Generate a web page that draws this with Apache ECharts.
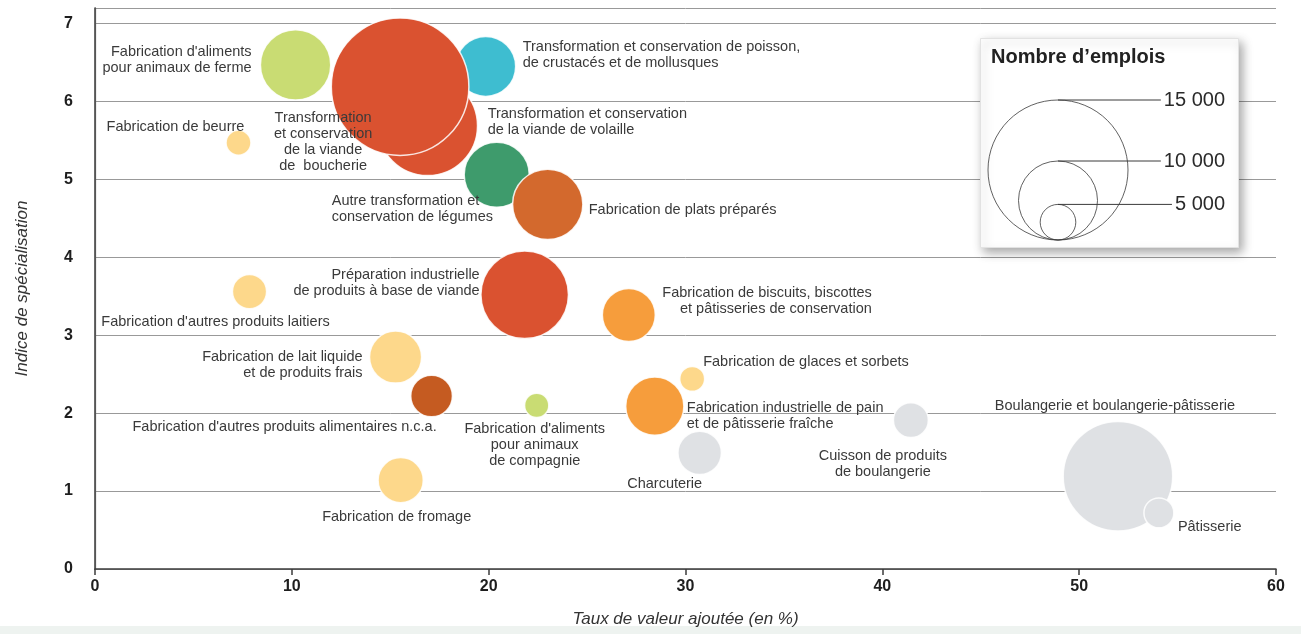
<!DOCTYPE html>
<html>
<head>
<meta charset="utf-8">
<script src="https://cdn.jsdelivr.net/npm/echarts@6/dist/echarts.min.js"></script>
<style>
html,body{margin:0;padding:0;background:#ffffff;}
#chart{width:1301px;height:634px;}
</style>
</head>
<body>
<div id="chart"></div>
<script>
// ---------------- DATA ----------------
const activites = [
  "Transformation et conservation\nde la viande de volaille",
  "Transformation et conservation de poisson,\nde crustacés et de mollusques",
  "Fabrication d'aliments\npour animaux de ferme",
  "Transformation\net conservation\nde la viande\nde  boucherie",
  "Autre transformation et\nconservation de légumes",
  "Fabrication de plats préparés",
  "Fabrication de beurre",
  "Préparation industrielle\nde produits à base de viande",
  "Fabrication d'autres produits laitiers",
  "Fabrication de biscuits, biscottes\net pâtisseries de conservation",
  "Fabrication de lait liquide\net de produits frais",
  "Fabrication d'autres produits alimentaires n.c.a.",
  "Fabrication d'aliments\npour animaux\nde compagnie",
  "Fabrication de glaces et sorbets",
  "Fabrication industrielle de pain\net de pâtisserie fraîche",
  "Charcuterie",
  "Cuisson de produits\nde boulangerie",
  "Boulangerie et boulangerie-pâtisserie",
  "Pâtisserie",
  "Fabrication de fromage"
];
const secteurs = [
  "viande","poisson","animaux","viande","legumes","autres","lait","viande","lait","boulPat",
  "lait","autres2","animaux","lait","boulPat","artisanat","artisanat","artisanat","artisanat","lait"
];
const tauxValeurAjoutee = [16.9, 19.85, 10.19, 15.5, 20.41, 23.0, 7.29, 21.83, 7.85, 27.12,
                           15.27, 17.1, 22.44, 30.34, 28.44, 30.72, 41.45, 51.97, 54.05, 15.53];
const indiceSpecialisation = [5.69, 6.45, 6.47, 6.19, 5.06, 4.68, 5.47, 3.52, 3.56, 3.26,
                              2.72, 2.22, 2.10, 2.44, 2.09, 1.49, 1.91, 1.19, 0.72, 1.14];
const nombreEmplois = [11700, 7800, 9000, 14800, 8400, 9000, 3500, 10700, 4800, 7000,
                       6900, 5700, 3400, 3500, 7600, 5900, 4900, 12500, 4200, 6100];
const legendeEmplois = [15000, 10000, 5000];
const legendeLabels = ["15 000", "10 000", "5 000"];
const xTicks = [0, 10, 20, 30, 40, 50, 60];
const yTicks = [0, 1, 2, 3, 4, 5, 6, 7];

// ---------------- STYLE ----------------
const couleurs = {
  viande: "#da5230", poisson: "#3ebdd0", animaux: "#c9dc73", legumes: "#3e9b6c",
  autres: "#d3692d", autres2: "#c55b21", lait: "#fdd88b", boulPat: "#f69d3c", artisanat: "#dfe1e4"
};
// label placement relative to bubble centre: [dx, dy, align]
const labelPlacement = [
  [60, -4, "left"], [37, -11, "left"], [-44, -5, "right"], [-77, 55, "center"], [-165, 34, "left"],
  [41, 6, "left"], [-63, -16, "center"], [-45, -12, "right"], [-34, 30, "center"], [243, -14, "right"],
  [-33, 8, "right"], [-147, 31, "center"], [-2, 40, "center"], [11, -17, "left"], [32, 10, "left"],
  [-35, 31, "center"], [-28, 44, "center"], [-3, -70, "center"], [19, 14, "left"], [-4, 37, "center"]
];
// radius scale (value -> px radius), from the picture's size key
const radiusStops = [[0, 0], [5000, 17.8], [10000, 39.5], [15000, 70]];
function rayon(v) {
  for (let i = 1; i < radiusStops.length; i++) {
    const a = radiusStops[i - 1], b = radiusStops[i];
    if (v <= b[0] || i === radiusStops.length - 1) {
      return a[1] + (v - a[0]) / (b[0] - a[0]) * (b[1] - a[1]);
    }
  }
}
const SANS = "'Liberation Sans',Arial,sans-serif";

const bubbleData = activites.map((n, i) => ({
  name: n,
  value: [tauxValeurAjoutee[i], indiceSpecialisation[i], nombreEmplois[i]],
  itemStyle: { color: couleurs[secteurs[i]] }
}));

const legendSeries = [];
legendeEmplois.forEach((v, i) => {
  const r = rayon(v);
  legendSeries.push({
    type: "scatter", xAxisIndex: 2, yAxisIndex: 2, z: 10, silent: true,
    data: [[0, r]], symbolSize: 2 * r,
    itemStyle: { color: "rgba(0,0,0,0)", borderColor: "#3a3a3a", borderWidth: 1 }
  });
  legendSeries.push({
    type: "line", xAxisIndex: 2, yAxisIndex: 2, z: 11, silent: true,
    symbol: "circle", symbolSize: 0, showSymbol: true,
    lineStyle: { color: "#3a3a3a", width: 1 },
    data: [[0, 2 * r], { value: [167, 2 * r], label: {
      show: true, position: "inside", align: "right", verticalAlign: "middle",
      formatter: legendeLabels[i], fontFamily: SANS, fontSize: 20, color: "#2a2a2a",
      backgroundColor: "#ffffff", padding: [0, 0, 0, 3]
    } }]
  });
});

const chart = echarts.init(document.getElementById("chart"), null, { renderer: "canvas" });
chart.setOption({
  animation: false,
  backgroundColor: "#ffffff",
  grid: [
    { left: 95, right: 25, top: 8, bottom: 65 },
    { left: 1058, top: 40, width: 200, height: 200 }
  ],
  xAxis: [
    {
      type: "value", gridIndex: 0, min: xTicks[0], max: xTicks[xTicks.length - 1], interval: 10,
      position: "bottom",
      axisLine: { show: true, lineStyle: { color: "#3d3d3d", width: 1.5 } },
      axisTick: { show: true, inside: false, length: 6, lineStyle: { color: "#3d3d3d", width: 1.5 } },
      axisLabel: { fontFamily: SANS, fontWeight: "bold", fontSize: 16, color: "#1e1e1e", margin: 10 },
      splitLine: { show: false },
      name: "Taux de valeur ajoutée (en %)", nameLocation: "middle", nameGap: 42,
      nameTextStyle: { fontFamily: SANS, fontStyle: "italic", fontSize: 17, color: "#333" }
    },
    {
      type: "value", gridIndex: 0, min: 0, max: 60, position: "top",
      axisLine: { show: true, lineStyle: { color: "#555", width: 1.2 } },
      axisTick: { show: false }, axisLabel: { show: false }, splitLine: { show: false }
    },
    { type: "value", gridIndex: 1, min: 0, max: 200, show: false }
  ],
  yAxis: [
    {
      type: "value", gridIndex: 0, min: yTicks[0], max: 7.2, interval: 1,
      axisLine: { show: true, lineStyle: { color: "#3d3d3d", width: 1.5 } },
      axisTick: { show: false },
      axisLabel: { fontFamily: SANS, fontWeight: "bold", fontSize: 16, color: "#1e1e1e", margin: 22,
                   showMaxLabel: false },
      splitLine: { show: true, lineStyle: { color: "#999999", width: 1 } },
      name: "Indice de spécialisation", nameLocation: "middle", nameGap: 64, nameRotate: 90,
      nameTextStyle: { fontFamily: SANS, fontStyle: "italic", fontSize: 17, color: "#333" }
    },
    {
      type: "value", gridIndex: 0, min: 0, max: 7.2, position: "right",
      axisLine: { show: true, lineStyle: { color: "#555", width: 1.2 } },
      axisTick: { show: false }, axisLabel: { show: false }, splitLine: { show: false }
    },
    { type: "value", gridIndex: 1, min: 0, max: 200, show: false }
  ],
  graphic: [
    { type: "rect", left: 0, top: 626, z: 0, shape: { width: 1301, height: 8 }, style: { fill: "#eef3f0" } },
    {
      type: "rect", left: 980, top: 38, z: 5, shape: { width: 258, height: 209 },
      style: { fill: "#ffffff", stroke: "#e2e2e2", lineWidth: 1,
               shadowBlur: 10, shadowOffsetX: 3, shadowOffsetY: 4, shadowColor: "rgba(0,0,0,0.35)" }
    },
    {
      type: "text", left: 991, top: 47, z: 12,
      style: { text: "Nombre d’emplois", font: "bold 20px " + SANS, fill: "#222" }
    }
  ],
  series: [
    {
      type: "scatter", xAxisIndex: 0, yAxisIndex: 0, z: 2,
      data: bubbleData,
      symbolSize: (val) => 2 * rayon(val[2]),
      itemStyle: { borderColor: "rgba(255,255,255,0.85)", borderWidth: 1.5, opacity: 1 },
      label: {
        show: true, position: "inside", formatter: (p) => p.name,
        fontFamily: SANS, fontSize: 14.5, lineHeight: 16, color: "#3a3a3a"
      },
      emphasis: { disabled: true },
      labelLayout: (p) => {
        const pl = labelPlacement[p.dataIndex];
        return { dx: pl[0], dy: pl[1], align: pl[2], verticalAlign: "middle", hideOverlap: false };
      }
    }
  ].concat(legendSeries)
});
</script>
</body>
</html>
